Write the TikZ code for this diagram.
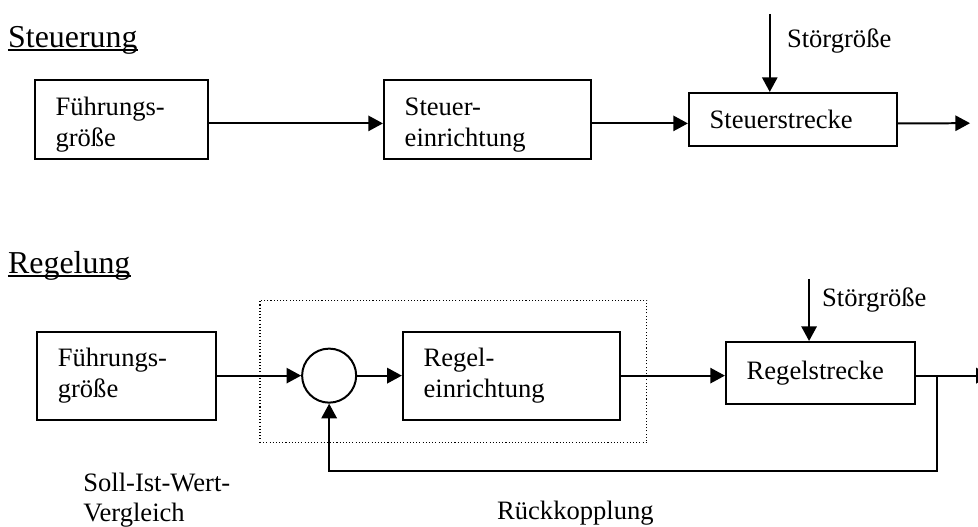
\documentclass[tikz,border=0pt]{standalone}
\usepackage{fontspec}
\setmainfont{Liberation Serif}
\usepackage{tikz}
\usetikzlibrary{arrows.meta, positioning, calc}

\begin{document}
\begin{tikzpicture}[
  font=\fontsize{20}{23}\selectfont,
  block/.style={draw, line width=1.5pt, inner xsep=0.55cm, inner ysep=0pt,
                align=left, minimum height=2.09cm},
  title/.style={font=\fontsize{24}{28}\selectfont, inner sep=0pt, anchor=base west},
  label/.style={inner sep=0pt, anchor=base west},
  vergl/.style={draw, circle, line width=1.5pt, minimum size=1.43cm, inner sep=0pt},
  rahmen/.style={draw, line width=0.8pt, dash pattern=on 0.8pt off 1.6pt,
                 minimum width=10.24cm, minimum height=3.78cm},
  pfeil/.style={-{Triangle[length=11pt, width=11.5pt]}, line width=1.5pt},
  linie/.style={line width=1.5pt}
]
\useasboundingbox (0,0) rectangle (25.88,-13.92);

%% Steuerung
\node[title] (t1) at (0.21,-1.27) {Steuerung};
\draw[line width=1.1pt] ([yshift=-1.6pt]t1.base west) -- ([yshift=-1.6pt]t1.base east);

\node[block, text width=3.48cm] (fg1) at (3.21,-3.16) {\rule{0pt}{22pt}Führungs-\\größe};
\node[block, text width=4.38cm] (se)  at (12.90,-3.16) {\rule{0pt}{22pt}Steuer-\\einrichtung};
\node[block, text width=4.40cm, minimum height=1.40cm] (ss) at (20.98,-3.16) {Steuerstrecke};
\coordinate (aus1)   at (25.67,-3.26);
\coordinate (stoer1) at (20.37,-0.37);

\draw[pfeil] ([yshift=-3pt]fg1.east) -- ([yshift=-3pt]se.west);
\draw[pfeil] ([yshift=-3pt]se.east) -- ([yshift=-3pt]ss.west);
\draw[pfeil] ([yshift=-3pt]ss.east) -- (aus1);
\draw[pfeil] (stoer1) -- (stoer1 |- ss.north);
\node[label] (sg1) at (20.82,-1.27) {Störgröße};

%% Regelung
\node[title] (t2) at (0.21,-7.25) {Regelung};
\draw[line width=1.1pt] ([yshift=-1.6pt]t2.base west) -- ([yshift=-1.6pt]t2.base east);

\node[rahmen] (regler) at (12.00,-9.83) {};
\node[block, text width=3.64cm, minimum height=2.33cm] (fg2) at (3.35,-9.94) {Führungs-\\größe};
\node[vergl] (vgl) at (8.71,-9.94) {};
\node[block, text width=4.64cm, minimum height=2.33cm] (re) at (13.53,-9.94) {Regel-\\einrichtung};
\node[block, text width=3.90cm, minimum height=1.64cm] (rs) at (21.71,-9.87) {Regelstrecke};
\coordinate (aus2)   at (26.22,-9.94);
\coordinate (zweig)  at (24.79,-9.94);
\coordinate (rueck)  at (24.79,-12.46);
\coordinate (stoer2) at (21.41,-7.38);

\draw[pfeil] (fg2.east) -- (vgl.west);
\draw[pfeil] (vgl.east) -- (re.west);
\draw[pfeil] (re.east) -- (re.east -| rs.west);
\draw[pfeil] (re.east -| rs.east) -- (aus2);
\draw[pfeil] (zweig) -- (rueck) -| (vgl.south);
\draw[pfeil] (stoer2) -- (stoer2 |- rs.north);
\node[label] (sg2) at (21.75,-8.12) {Störgröße};

%% Beschriftung
\node[inner sep=0pt, anchor=west, align=left] (soll) at (2.20,-13.23) {Soll-Ist-Wert-\\Vergleich};
\node[label] (rk) at (13.15,-13.76) {Rückkopplung};

\end{tikzpicture}
\end{document}
